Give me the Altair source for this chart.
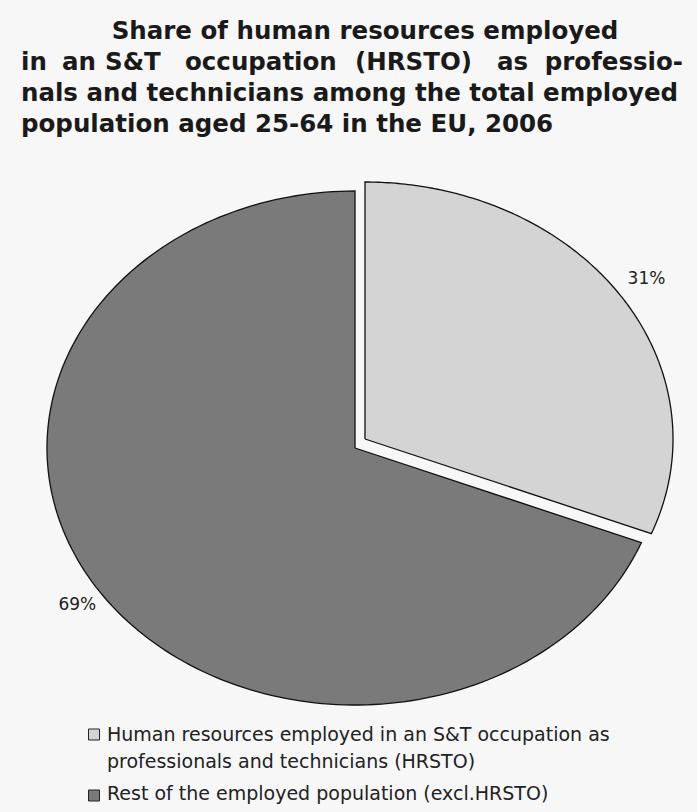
import altair as alt
import pandas as pd

# ---- data ----
categories = ["HRSTO", "Rest"]
shares = [31, 69]
slice_labels = ["31%", "69%"]
slice_fill = ["#d4d4d4", "#7a7a7a"]
legend_line_1 = ["Human resources employed in an S&T occupation as",
                 "professionals and technicians (HRSTO)"]
legend_line_2 = ["Rest of the employed population (excl.HRSTO)"]
title_lines = [
    "Share of human resources employed",
    "in an S&T occupation (HRSTO) as professio-",
    "nals and technicians among the total employed",
    "population aged 25-64 in the EU, 2006",
]

TITLE_FONT = "DejaVu Sans"
TEXT_FONT = "DejaVu Sans"

# ---- geometry / style (not data) ----
CX, CY, RX, RY = 355, 448, 308, 257
EX_X, EX_Y = 10 / RX, 9 / RY          # explode offset of the HRSTO slice
LABEL_R = {"HRSTO": 1.105, "Rest": 1.09}
N_STEPS = 180

# slice boundaries as fractions of the total, from the shares
total = sum(shares)
cum = 0
rows = []
for cat, s in zip(categories, shares):
    start, end = cum / total, (cum + s) / total
    cum += s
    rows.append({"category": cat, "k": 0, "t": 0.0, "vertex": 1, "start": start, "end": end})
    for i in range(N_STEPS + 1):
        rows.append({"category": cat, "k": i + 1, "t": i / N_STEPS, "vertex": 0,
                     "start": start, "end": end})
    rows.append({"category": cat, "k": N_STEPS + 2, "t": 1.0, "vertex": 1, "start": start, "end": end})
poly = pd.DataFrame(rows)

ex_expr_x = "(datum.category == 'HRSTO' ? %f : 0)" % EX_X
ex_expr_y = "(datum.category == 'HRSTO' ? %f : 0)" % EX_Y
lab_r_expr = "(datum.category == 'HRSTO' ? %f : %f)" % (LABEL_R["HRSTO"], LABEL_R["Rest"])

xs = alt.Scale(domain=[-1, 1], range=[CX - RX, CX + RX])
ys = alt.Scale(domain=[-1, 1], range=[CY + RY, CY - RY])
fill_scale = alt.Scale(domain=categories, range=slice_fill)

pie = (
    alt.Chart(poly)
    .transform_calculate(ang="2 * PI * (datum.start + datum.t * (datum.end - datum.start))")
    .transform_calculate(
        px="(datum.vertex == 1 ? 0 : sin(datum.ang)) + " + ex_expr_x,
        py="(datum.vertex == 1 ? 0 : cos(datum.ang)) + " + ex_expr_y,
    )
    .mark_line(stroke="#111111", strokeWidth=1.3, interpolate="linear", strokeJoin="miter")
    .encode(
        x=alt.X("px:Q", scale=xs, axis=None),
        y=alt.Y("py:Q", scale=ys, axis=None),
        fill=alt.Fill("category:N", scale=fill_scale, legend=None),
        detail="category:N",
        order=alt.Order("k:Q"),
    )
)

# ---- slice labels ----
lab_df = pd.DataFrame({"category": categories, "share": shares, "label": slice_labels})
labels = (
    alt.Chart(lab_df)
    .transform_joinaggregate(total="sum(share)")
    .transform_window(cum="sum(share)", frame=[None, 0])
    .transform_calculate(mid="2 * PI * (datum.cum - datum.share / 2) / datum.total")
    .transform_calculate(
        lx=lab_r_expr + " * sin(datum.mid) + " + ex_expr_x,
        ly=lab_r_expr + " * cos(datum.mid) + " + ex_expr_y,
    )
    .mark_text(font=TEXT_FONT, fontSize=17, color="#222222")
    .encode(x=alt.X("lx:Q", scale=xs, axis=None), y=alt.Y("ly:Q", scale=ys, axis=None),
            text="label:N")
)

# ---- title ----
title_style = dict(font=TITLE_FONT, fontSize=24.5, fontWeight="bold",
                   baseline="alphabetic", color="#1a1a1a")
title_df = pd.DataFrame({"t": title_lines, "i": list(range(len(title_lines)))})
t1 = alt.Chart(title_df).transform_filter(alt.datum.i == 0).mark_text(
    align="center", **title_style
).encode(text="t:N", x=alt.value(365), y=alt.value(39))

# line 2 is justified in the reference: one text mark per word
words2 = title_lines[1].split(" ")
w2_df = pd.DataFrame({"w": words2, "j": list(range(len(words2)))})
w2_left = [21, 62, 105, 185, 355, 497]
t2 = []
for j, xx in enumerate(w2_left):
    t2.append(alt.Chart(w2_df).transform_filter(alt.datum.j == j).mark_text(
        align="left", **title_style
    ).encode(text="w:N", x=alt.value(xx), y=alt.value(70)))
t2.append(alt.Chart(w2_df).transform_filter(alt.datum.j == len(words2) - 1).mark_text(
    align="right", **title_style
).encode(text="w:N", x=alt.value(683), y=alt.value(70)))

t_rest = []
for k, yy in zip([2, 3], [101, 132]):
    t_rest.append(alt.Chart(title_df).transform_filter(alt.datum.i == k).mark_text(
        align="left", **title_style
    ).encode(text="t:N", x=alt.value(21), y=alt.value(yy)))

# ---- legend ----
icon_df = pd.DataFrame({"category": categories})
icons = []
for cat, yy in zip(categories, [734.5, 795.5]):
    icons.append(alt.Chart(icon_df).transform_filter(alt.datum.category == cat).mark_square(
        size=121, stroke="#222222", strokeWidth=1, opacity=1
    ).encode(fill=alt.Fill("category:N", scale=fill_scale, legend=None),
             x=alt.value(94), y=alt.value(yy)))

leg_df = pd.DataFrame({"t": legend_line_1 + legend_line_2, "i": [0, 1, 2]})
leg_texts = []
for k, yy in zip([0, 1, 2], [741, 768, 800]):
    leg_texts.append(alt.Chart(leg_df).transform_filter(alt.datum.i == k).mark_text(
        font=TEXT_FONT, fontSize=19, align="left", baseline="alphabetic", color="#222222"
    ).encode(text="t:N", x=alt.value(107), y=alt.value(yy)))

chart = alt.layer(
    pie, labels, t1, *t2, *t_rest, *icons, *leg_texts
).properties(
    width=697, height=812, background="#f7f7f7", padding=0,
    autosize=alt.AutoSizeParams(type="none"),
).configure_view(stroke=None)

chart.save("out.html", embed_options={"renderer": "svg", "actions": False})
